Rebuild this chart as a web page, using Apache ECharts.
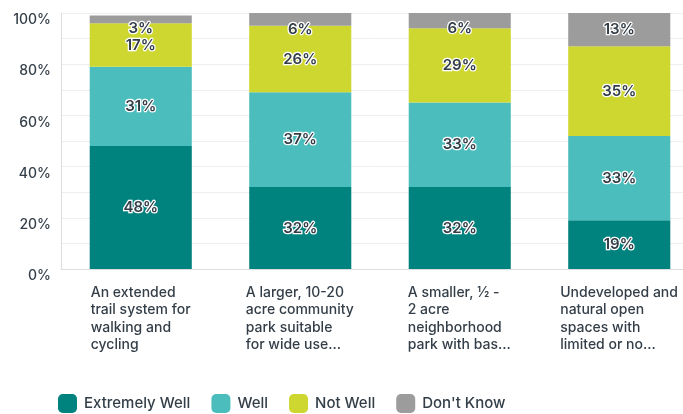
<!DOCTYPE html>
<html>
<head>
<meta charset="utf-8">
<script src="https://cdn.jsdelivr.net/npm/echarts@6/dist/echarts.min.js"></script>
<style>
  html, body { margin: 0; padding: 0; background: #ffffff; }
  #chart { width: 683px; height: 414px; }
</style>
</head>
<body>
<div id="chart"></div>
<script>
// Survey question options (each wrapped onto four lines)
const categories = [
  'An extended\ntrail system for\nwalking and\ncycling',
  'A larger, 10-20\nacre community\npark suitable\nfor wide use...',
  'A smaller, \u00BD -\n2 acre\nneighborhood\npark with bas...',
  'Undeveloped and\nnatural open\nspaces with\nlimited or no...'
];

// Share of responses (%) per answer
const seriesNames = ['Extremely Well', 'Well', 'Not Well', "Don't Know"];
const extremelyWell = [48, 32, 32, 19];
const well = [31, 37, 33, 33];
const notWell = [17, 26, 29, 35];
const dontKnow = [3, 6, 6, 13];

const yMin = 0;
const yMax = 100;
const yStep = 20;

const palette = ['#00827e', '#4bbdbd', '#cdd72f', '#9c9c9c'];
const ink = '#333e48';
const FONT = 'Inter, "Noto Sans", sans-serif';

// Width of the longest line of each category label, so every label block
// can be centred under its bar while its lines stay left-aligned.
const measureCtx = document.createElement('canvas').getContext('2d');
measureCtx.font = '500 14px Inter';
const catRich = {};
categories.forEach((c, i) => {
  const w = Math.max(...c.split('\n').map(l => measureCtx.measureText(l).width));
  catRich['c' + i] = {
    width: Math.ceil(w), align: 'left', fontSize: 14, fontWeight: 500,
    fontFamily: FONT, color: ink, lineHeight: 17.5
  };
});

const valueLabel = {
  show: true,
  position: 'inside',
  formatter: p => p.value + '%',
  fontFamily: FONT,
  fontSize: 15,
  fontWeight: 600,
  color: ink,
  textBorderColor: '#ffffff',
  textBorderWidth: 2.5
};

const seriesValues = [extremelyWell, well, notWell, dontKnow];

function buildSeries(offsets) {
  return seriesValues.map((vals, s) => ({
    name: seriesNames[s],
    type: 'bar',
    stack: 'total',
    barWidth: '64%',
    clip: true,
    itemStyle: { color: palette[s] },
    label: valueLabel,
    emphasis: { disabled: true },
    data: vals.map((v, i) => ({
      value: v,
      label: { offset: [0, offsets ? offsets[s][i] : 0] }
    }))
  }));
}

const chart = echarts.init(document.getElementById('chart'), null, { renderer: 'canvas' });

chart.setOption({
  animation: false,
  backgroundColor: '#ffffff',
  // the plot runs a little past the right edge of the canvas
  grid: { left: 61, top: 13, width: 638, bottom: 145, containLabel: false, outerBoundsMode: 'none' },
  legend: {
    left: 58,
    top: 394,
    padding: 0,
    itemWidth: 19,
    itemHeight: 19,
    itemGap: 21,
    icon: 'roundRect',
    selectedMode: false,
    textStyle: {
      fontFamily: FONT, fontSize: 15, fontWeight: 500, color: ink,
      padding: [0, 0, 0, 2]
    },
    data: seriesNames
  },
  xAxis: {
    type: 'category',
    data: categories,
    axisTick: { show: false },
    axisLine: { show: true, lineStyle: { color: '#dddddd', width: 1 } },
    axisLabel: {
      margin: 15,
      interval: 0,
      formatter: (value, idx) => value.split('\n').map(l => '{c' + idx + '|' + l + '}').join('\n'),
      rich: catRich
    }
  },
  yAxis: {
    type: 'value',
    min: yMin,
    max: yMax,
    interval: yStep,
    axisLine: { show: true, lineStyle: { color: '#dddddd', width: 1 } },
    axisTick: { show: false },
    axisLabel: {
      margin: 10,
      formatter: v => v + '%',
      fontFamily: FONT,
      fontSize: 14,
      fontWeight: 500,
      color: ink,
      verticalAlign: 'top',
      lineHeight: 14
    },
    splitLine: { show: true, lineStyle: { color: '#eeeeee', width: 1 } },
    minorTick: { show: false, splitNumber: 2 },
    minorSplitLine: { show: true, lineStyle: { color: '#eeeeee', width: 1 } }
  },
  series: buildSeries(null)
});

// Keep labels of thin top segments from crowding the top edge of the plot.
const topPx = chart.convertToPixel({ gridIndex: 0 }, [0, yMax])[1];
const minCenter = topPx + 15;
const offsets = seriesValues.map((vals, s) => vals.map((v, i) => {
  let base = 0;
  for (let k = 0; k < s; k++) base += seriesValues[k][i];
  const centerPx = chart.convertToPixel({ gridIndex: 0 }, [i, base + v / 2])[1];
  return Math.max(0, minCenter - centerPx);
}));
chart.setOption({ series: buildSeries(offsets) });
</script>
</body>
</html>
